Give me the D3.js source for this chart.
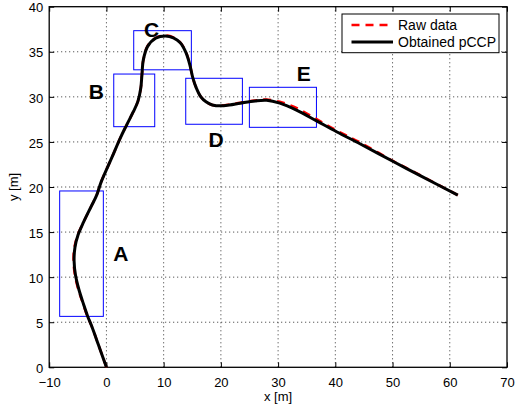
<!DOCTYPE html>
<html>
<head>
<meta charset="utf-8">
<script src="https://cdn.jsdelivr.net/npm/d3@7"></script>
<style>
  html, body { margin: 0; padding: 0; background: #fff; }
  svg { display: block; font-family: "Liberation Sans", Arial, Helvetica, sans-serif; }
</style>
</head>
<body>
<svg id="chart" width="517" height="412"></svg>
<script>
// ---- data ----
const xTicks = [-10, 0, 10, 20, 30, 40, 50, 60, 70];
const yTicks = [0, 5, 10, 15, 20, 25, 30, 35, 40];

const pccpX = [0, -1.4, -2.6, -3.3, -4.0, -4.8, -5.4, -5.65, -5.5, -4.95, -4.0, -2.7, -1.7, -0.9, 0.9, 2.4, 3.55, 4.7, 5.5, 6.0, 6.2, 6.45, 7.2, 8.6, 10.3, 11.7, 12.9, 13.9, 14.6, 15.1, 15.7, 16.5, 17.4, 18.5, 20.0, 21.5, 23.4, 26.0, 28.0, 30.3, 33.3, 36.8, 40.3, 44.3, 50.2, 55.0, 61.4];
const pccpY = [0, 2.5, 4.6, 5.7, 7.0, 8.6, 10.2, 11.8, 13.3, 14.7, 16.1, 17.8, 19.1, 20.6, 23.2, 25.4, 26.9, 28.35, 29.5, 30.95, 32.4, 34.1, 35.6, 36.5, 36.75, 36.55, 36.0, 34.9, 33.5, 32.1, 31.0, 30.0, 29.45, 29.1, 29.0, 29.1, 29.3, 29.55, 29.62, 29.3, 28.5, 27.3, 26.1, 24.8, 22.8, 21.2, 19.1];

const rawX = [0, -1.4, -2.6, -3.35, -4.05, -4.9, -5.5, -5.75, -5.6, -5.0, -4.0, -2.7, -1.7, -0.9, 0.9, 2.4, 3.55, 4.7, 5.5, 6.0, 6.2, 6.45, 7.2, 8.6, 10.3, 11.7, 12.95, 13.95, 14.6, 15.1, 15.7, 16.5, 17.4, 18.5, 20.0, 21.5, 23.4, 26.0, 28.0, 30.3, 33.3, 36.8, 40.3, 44.3, 50.2, 55.0, 61.4];
const rawY = [0, 2.5, 4.6, 5.7, 7.0, 8.6, 10.2, 11.8, 13.3, 14.7, 16.1, 17.8, 19.1, 20.6, 23.2, 25.4, 26.9, 28.35, 29.5, 30.95, 32.4, 34.1, 35.65, 36.55, 36.8, 36.6, 36.0, 34.9, 33.5, 32.1, 31.0, 30.0, 29.45, 29.1, 29.05, 29.15, 29.35, 29.6, 29.7, 29.45, 28.75, 27.5, 26.25, 24.95, 22.85, 21.25, 19.1];

// highlighted regions [x0, x1, y0, y1]
const boxNames = ["A", "B", "C", "D", "E"];
const boxX0 = [-8.17, 1.28, 4.77, 13.86, 24.98];
const boxX1 = [-0.54, 8.44, 14.84, 23.76, 36.7];
const boxY0 = [5.65, 26.69, 33.0, 26.96, 26.62];
const boxY1 = [19.56, 32.53, 37.34, 32.06, 31.06];
// label anchor (data coords)
const labelX = [2.5, -1.77, 7.88, 19.16, 34.5];
const labelY = [11.8, 29.75, 36.67, 24.47, 31.76];

const legendLabels = ["Raw data", "Obtained pCCP"];

// ---- layout ----
const svg = d3.select("#chart");
const L = 49.2, R = 507, T = 6.7, B = 367.3;
const x = d3.scaleLinear().domain([-10, 70]).range([L, R]);
const y = d3.scaleLinear().domain([0, 40]).range([B, T]);

// grid
const grid = svg.append("g");
grid.selectAll("line.gx").data(xTicks.slice(1, -1)).enter().append("line")
  .attr("x1", d => x(d)).attr("x2", d => x(d)).attr("y1", B).attr("y2", T)
  .attr("stroke", "#333").attr("stroke-width", 1).attr("stroke-dasharray", "1,3");
grid.selectAll("line.gy").data(yTicks.slice(1, -1)).enter().append("line")
  .attr("y1", d => y(d)).attr("y2", d => y(d)).attr("x1", L).attr("x2", R)
  .attr("stroke", "#333").attr("stroke-width", 1).attr("stroke-dasharray", "1,3");

// axes (ticks inward)
const tickLen = 5;
const axB = svg.append("g").attr("transform", `translate(0,${B})`)
  .call(d3.axisBottom(x).tickValues(xTicks).tickSize(-tickLen).tickPadding(10).tickFormat(d => d < 0 ? "\u2212" + Math.abs(d) : d));
const axT = svg.append("g").attr("transform", `translate(0,${T})`)
  .call(d3.axisTop(x).tickValues(xTicks).tickSize(-tickLen).tickFormat(""));
const axL = svg.append("g").attr("transform", `translate(${L},0)`)
  .call(d3.axisLeft(y).tickValues(yTicks).tickSize(-tickLen).tickPadding(6));
const axR = svg.append("g").attr("transform", `translate(${R},0)`)
  .call(d3.axisRight(y).tickValues(yTicks).tickSize(-tickLen).tickFormat(""));
[axB, axT, axL, axR].forEach(a => {
  a.select(".domain").remove();
  a.selectAll("line").attr("stroke", "#000");
  a.selectAll("text").attr("font-size", 13).attr("fill", "#000")
    .attr("font-family", "Liberation Sans, Arial, sans-serif");
});
axL.selectAll("text").attr("dy", "0.4em");

// frame
svg.append("rect").attr("x", L).attr("y", T).attr("width", R - L).attr("height", B - T)
  .attr("fill", "none").attr("stroke", "#000").attr("stroke-width", 1.3);

// boxes
svg.append("g").selectAll("rect").data(boxNames).enter().append("rect")
  .attr("x", (d, i) => x(boxX0[i])).attr("y", (d, i) => y(boxY1[i]))
  .attr("width", (d, i) => x(boxX1[i]) - x(boxX0[i]))
  .attr("height", (d, i) => y(boxY0[i]) - y(boxY1[i]))
  .attr("fill", "none").attr("stroke", "#0000ff").attr("stroke-width", 1);

// lines
const line = d3.line().x(d => x(d[0])).y(d => y(d[1])).curve(d3.curveCatmullRom.alpha(0.5));
const rawPts = rawX.map((v, i) => [v, rawY[i]]);
const pccpPts = pccpX.map((v, i) => [v, pccpY[i]]);
svg.append("path").datum(rawPts).attr("d", line)
  .attr("fill", "none").attr("stroke", "#ff0000").attr("stroke-width", 2.5).attr("stroke-dasharray", "8,6");
svg.append("path").datum(pccpPts).attr("d", line)
  .attr("fill", "none").attr("stroke", "#000").attr("stroke-width", 3).attr("stroke-linejoin", "round");

// labels
svg.append("g").selectAll("text").data(boxNames).enter().append("text")
  .attr("x", (d, i) => x(labelX[i])).attr("y", (d, i) => y(labelY[i]))
  .attr("text-anchor", "middle").attr("font-size", 21).attr("font-weight", "bold")
  .text(d => d);

// axis titles
svg.append("text").attr("x", (L + R) / 2).attr("y", 401).attr("text-anchor", "middle")
  .attr("font-size", 13).text("x [m]");
svg.append("text").attr("transform", `translate(18,${(T + B) / 2}) rotate(-90)`)
  .attr("text-anchor", "middle").attr("font-size", 13).text("y [m]");

// legend
const lg = svg.append("g");
lg.append("rect").attr("x", 342).attr("y", 14).attr("width", 157).attr("height", 38.7)
  .attr("fill", "#fff").attr("stroke", "#000").attr("stroke-width", 1);
lg.append("line").attr("x1", 351.5).attr("x2", 393).attr("y1", 25).attr("y2", 25)
  .attr("stroke", "#ff0000").attr("stroke-width", 2.5).attr("stroke-dasharray", "8,6");
lg.append("line").attr("x1", 351.5).attr("x2", 393).attr("y1", 42).attr("y2", 42)
  .attr("stroke", "#000").attr("stroke-width", 3);
lg.selectAll("text").data(legendLabels).enter().append("text")
  .attr("x", 398).attr("y", (d, i) => 29.8 + i * 17.5)
  .attr("font-size", 14).text(d => d);
</script>
</body>
</html>
